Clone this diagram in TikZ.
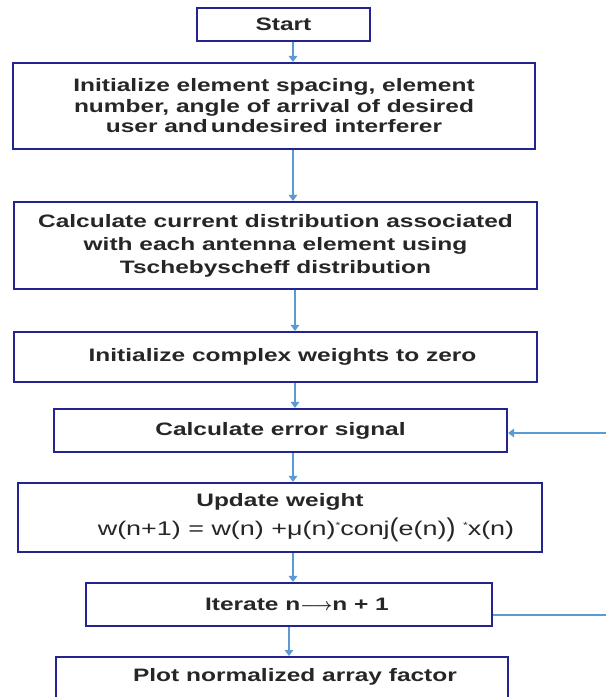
\documentclass[tikz,border=0pt]{standalone}
\usepackage{fontspec}
\usepackage{amsmath}
\newfontfamily\boxfont{Liberation Sans}[FakeStretch=1.36]
\usetikzlibrary{arrows.meta}
\definecolor{boxblue}{RGB}{36,36,145}
\definecolor{arrblue}{RGB}{91,155,213}
\newcommand{\bigpar}[1]{\raisebox{-1.5pt}{\scalebox{1}[1.3]{#1}}}
\newcommand{\supast}{\raisebox{6.5pt}{\fontsize{9}{9}\selectfont *}}
\begin{document}
\begin{tikzpicture}[x=1pt,y=-1pt,
  flowbox/.style={draw=boxblue, line width=2.2pt, rectangle, inner sep=0pt, align=center,
    font=\boxfont\bfseries\fontsize{18}{20.5}\selectfont, text=black!85},
  arr/.style={draw=arrblue, line width=1.5pt, -{Triangle[width=8.5pt,length=6pt]}},
  fbline/.style={draw=arrblue, line width=1.5pt}]
\useasboundingbox (0,0) rectangle (606,697);
\clip (0,0) rectangle (606,697);
\fill[white] (0,0) rectangle (606,697);

\node[flowbox, minimum width=173pt, minimum height=33pt] (s1) at (283.5,24.5) {Start};
\node[flowbox, minimum width=522pt, minimum height=86pt] (s2) at (274,106)
  {Initialize element spacing, element\\number, angle of arrival of desired\\user and\,undesired interferer};
\node[flowbox, minimum width=523pt, minimum height=87pt, font=\boxfont\bfseries\fontsize{18}{23}\selectfont] (s3) at (275.5,245.5)
  {Calculate current distribution associated\\with each antenna element using\\Tschebyscheff distribution};
\node[flowbox, minimum width=523pt, minimum height=50pt] (s4) at (275.5,357)
  {\hspace*{14pt}Initialize complex weights to zero};
\node[flowbox, minimum width=453pt, minimum height=43pt] (s5) at (280.5,430.5)
  {Calculate error signal};
\node[flowbox, minimum width=524pt, minimum height=69pt, font=\boxfont\bfseries\fontsize{18}{29}\selectfont] (s6) at (280,517.5)
  {Update weight\\\hspace*{52pt}{\mdseries\fontsize{19.8}{29}\selectfont w(n+1) = w(n) +μ(n)\supast conj\bigpar{(}e(n)\bigpar{)} \supast x(n)}};
\node[flowbox, minimum width=406pt, minimum height=43pt] (s7) at (289,604.5)
  {\hspace*{16pt}Iterate n$\boldsymbol{\longrightarrow}$n + 1};
\node[flowbox, minimum width=452pt, text height=24pt, text depth=40pt, anchor=north] (s8) at (282,656)
  {\hspace*{26pt}Plot normalized array factor};

\coordinate (ca) at (293,0);
\coordinate (cb) at (295,0);
\coordinate (cc) at (289,0);
\coordinate (fbin) at (606,433);
\coordinate (fbout) at (606,615);

\draw[arr] (s1.south -| ca) -- (s2.north -| ca);
\draw[arr] (s2.south -| ca) -- (s3.north -| ca);
\draw[arr] (s3.south -| cb) -- (s4.north -| cb);
\draw[arr] (s4.south -| cb) -- (s5.north -| cb);
\draw[arr] (s5.south -| ca) -- (s6.north -| ca);
\draw[arr] (s6.south -| ca) -- (s7.north -| ca);
\draw[arr] (s7.south -| cc) -- (s8.north -| cc);
\draw[fbline] (s7.east |- fbout) -- (fbout);
\draw[arr] (fbin) -- (s5.east |- fbin);
\end{tikzpicture}
\end{document}
